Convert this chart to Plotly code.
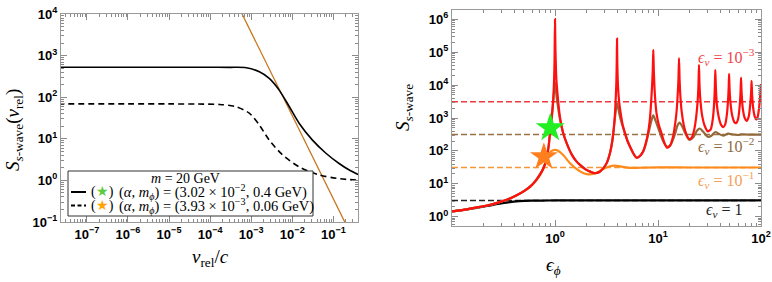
import plotly.graph_objects as go

# ---------------- Left panel data ----------------
v_solid = [2e-8, 1e-6, 1e-5, 1e-4, 3e-4, 7.6e-4, 1.58e-3, 2.75e-3, 4.8e-3, 8.5e-3, 1.48e-2, 3.1e-2, 6.6e-2, 0.138, 0.25, 0.45]
S_solid = [525, 525, 525, 524, 522, 512, 408, 283, 148, 59, 23.4, 9.3, 4.5, 2.55, 1.75, 1.32]

v_dashed = [2e-8, 1e-6, 1e-5, 5e-5, 1.7e-4, 4.3e-4, 9.1e-4, 1.6e-3, 2.75e-3, 5.8e-3, 1.48e-2, 4.6e-2, 0.12, 0.45]
S_dashed = [69, 69, 69, 68.5, 67, 59, 41, 21, 9.3, 4.1, 2.1, 1.35, 1.12, 1.0]

v_bound = [5e-4, 0.25]
S_bound = [14400, 0.0576]

# ---------------- Right panel data ----------------
eps_red = [0.1, 0.13, 0.17, 0.22, 0.28, 0.35, 0.42, 0.5, 0.58, 0.65, 0.72, 0.78, 0.83, 0.87, 0.9, 0.93, 0.96, 0.98, 0.99, 1.0,
           1.01, 1.03, 1.06, 1.12, 1.2, 1.3, 1.46, 1.6, 1.76, 2.0, 2.2, 2.45, 2.7, 2.95, 3.2, 3.42, 3.6, 3.74, 3.85, 3.94, 3.98, 4.0,
           4.03, 4.1, 4.2, 4.34, 4.55, 4.78, 5.05, 5.34, 5.75, 6.2, 6.7, 7.17, 7.6, 8.0, 8.3, 8.52, 8.75, 8.9, 9.0,
           9.1, 9.31, 9.67, 10.2, 10.8, 11.5, 12.2, 13.0, 14.0, 14.6, 15.1, 15.5, 15.8, 16.0,
           16.2, 16.5, 17.0, 17.8, 18.8, 20.0, 21.2, 22.5, 23.5, 24.3, 24.7, 25.0,
           25.3, 25.8, 26.8, 28.5, 30.5, 32.5, 34.0, 35.0, 35.6, 36.0,
           36.5, 37.3, 38.8, 41.0, 43.0, 45.0, 46.8, 48.0, 48.6, 49.0,
           49.5, 50.5, 52.5, 55.5, 57.5, 60.0, 62.0, 63.3, 64.0,
           64.8, 66.5, 69.5, 72.5, 76.0, 78.5, 80.2, 81.0,
           82.0, 84.0, 87.0, 90.0, 93.0, 96.5, 100.0]
S_red = [1.45, 1.62, 1.9, 2.2, 2.7, 3.4, 4.4, 6.0, 8.5, 12.5, 20, 32, 60, 150, 450, 1100, 3500, 1.5e4, 6e4, 1e6,
         1.2e5, 1.6e4, 5000, 1000, 350, 170, 76, 50, 37, 27, 23.5, 21, 23, 30, 45, 86, 200, 550, 2000, 1.2e4, 6e4, 2.6e5,
         4e4, 8e3, 3000, 1400, 600, 347, 200, 136, 85, 62, 70, 96, 170, 347, 800, 2200, 9000, 3e4, 1.17e5,
         3e4, 5600, 1400, 600, 347, 180, 125, 140, 275, 600, 1400, 4500, 1.5e4, 6.6e4,
         1.5e4, 4500, 1500, 600, 330, 230, 250, 450, 1100, 3500, 1e4, 4.1e4,
         1e4, 3500, 1200, 560, 390, 450, 900, 2500, 8000, 2.9e4,
         8000, 2500, 1100, 620, 530, 650, 1400, 4000, 9000, 2.2e4,
         8000, 3000, 1200, 730, 700, 950, 2200, 6000, 1.7e4,
         6000, 2000, 1000, 820, 1100, 2500, 6000, 1.35e4,
         5000, 2000, 1100, 900, 1100, 2500, 1.07e4]

eps_brown = [0.1, 0.13, 0.17, 0.22, 0.28, 0.35, 0.42, 0.5, 0.58, 0.65, 0.72, 0.78, 0.83, 0.87, 0.9, 0.93, 0.96, 1.0,
             1.04, 1.12, 1.2, 1.3, 1.46, 1.6, 1.76, 2.0, 2.2, 2.45, 2.7, 2.95, 3.2, 3.42, 3.6, 3.8, 3.95, 4.0, 4.08, 4.3,
             4.78, 5.34, 6.2, 7.17, 8.0, 8.6, 9.0, 9.5, 10.3, 11.2, 12.2, 13.2, 14.5, 15.5, 16.2, 17.2, 18.8,
             20.3, 22.0, 24.0, 25.5, 27.5, 30.5, 33.0, 36.0, 39.0, 43.0, 48.0, 53.0, 60.0, 65.0, 75.0, 100.0]
S_brown = [1.45, 1.62, 1.9, 2.2, 2.7, 3.4, 4.4, 6.0, 8.5, 12.5, 20, 32, 60, 150, 430, 1000, 3000, 1.2e4,
           4000, 900, 350, 170, 76, 50, 37, 27, 23.5, 21, 23, 30, 45, 86, 200, 900, 2400, 2800, 2200, 1000,
           340, 136, 62, 95, 300, 800, 1200, 800, 400, 200, 135, 150, 300, 600, 720, 550, 300,
           215, 260, 420, 480, 380, 270, 290, 375, 330, 290, 335, 315, 305, 318, 312, 314]

eps_orange = [0.1, 0.13, 0.17, 0.22, 0.28, 0.35, 0.42, 0.5, 0.58, 0.65, 0.72, 0.78, 0.85, 0.92, 1.0, 1.08, 1.2, 1.4,
              1.65, 1.9, 2.1, 2.4, 2.8, 3.3, 3.8, 4.3, 5.0, 6.0, 7.5, 10.0, 20.0, 100.0]
S_orange = [1.45, 1.62, 1.9, 2.2, 2.7, 3.4, 4.4, 6.0, 8.4, 12.2, 19, 33, 70, 98, 107, 100, 75, 42,
            27, 21, 19.5, 20.5, 26, 33, 36, 34, 31, 30.5, 31.2, 31.5, 31.4, 31.4]

eps_black = [0.1, 0.13, 0.164, 0.22, 0.28, 0.35, 0.45, 0.6, 0.8, 1.2, 3.0, 100.0]
S_black = [1.45, 1.62, 1.82, 2.12, 2.45, 2.75, 2.98, 3.08, 3.12, 3.14, 3.14, 3.14]

eps_range = [0.1, 100.0]
S_limit_red = [3141.6, 3141.6]
S_limit_brown = [314.16, 314.16]
S_limit_orange = [31.416, 31.416]
S_limit_black = [3.1416, 3.1416]

star_green = ([0.9], [500])
star_orange = ([0.78], [66])

# tick labels
left_xvals = [1e-7, 1e-6, 1e-5, 1e-4, 1e-3, 1e-2, 1e-1]
left_xtext = ["10<sup>−7</sup>", "10<sup>−6</sup>", "10<sup>−5</sup>", "10<sup>−4</sup>", "10<sup>−3</sup>", "10<sup>−2</sup>", "10<sup>−1</sup>"]
left_yvals = [1e-1, 1, 10, 100, 1e3, 1e4]
left_ytext = ["10<sup>−1</sup>", "10<sup>0</sup>", "10<sup>1</sup>", "10<sup>2</sup>", "10<sup>3</sup>", "10<sup>4</sup>"]
right_xvals = [1, 10, 100]
right_xtext = ["10<sup>0</sup>", "10<sup>1</sup>", "10<sup>2</sup>"]
right_yvals = [1, 10, 100, 1e3, 1e4, 1e5, 1e6]
right_ytext = ["10<sup>0</sup>", "10<sup>1</sup>", "10<sup>2</sup>", "10<sup>3</sup>", "10<sup>4</sup>", "10<sup>5</sup>", "10<sup>6</sup>"]

legend_title = "<i>m</i> = 20 GeV"
legend_rows = ["(<i>α</i>, <i>m<sub>ϕ</sub></i>) = (3.02 × 10<sup>−2</sup>, 0.4 GeV)",
               "(<i>α</i>, <i>m<sub>ϕ</sub></i>) = (3.93 × 10<sup>−3</sup>, 0.06 GeV)"]
legend_star_colors = ["#5CCB3E", "#FFA500"]

W, H = 772, 282
SERIF = "Liberation Serif, DejaVu Serif, serif"

fig = go.Figure()

# left panel traces
fig.add_trace(go.Scatter(x=v_bound, y=S_bound, mode="lines", line=dict(color="#C8761E", width=1.3),
                         showlegend=False, xaxis="x", yaxis="y"))
fig.add_trace(go.Scatter(x=v_solid, y=S_solid, mode="lines", line=dict(color="black", width=1.6, shape="spline", smoothing=0.8),
                         showlegend=False, xaxis="x", yaxis="y"))
fig.add_trace(go.Scatter(x=v_dashed, y=S_dashed, mode="lines", line=dict(color="black", width=1.6, dash="6px,4px", shape="spline", smoothing=0.8),
                         showlegend=False, xaxis="x", yaxis="y"))

# right panel traces
for yy, col in [(S_limit_black, "#222222"), (S_limit_orange, "#F5983A"), (S_limit_brown, "#9A7043"), (S_limit_red, "#EC3A40")]:
    fig.add_trace(go.Scatter(x=eps_range, y=yy, mode="lines", line=dict(color=col, width=1.5, dash="6px,3px"),
                             showlegend=False, xaxis="x2", yaxis="y2"))
fig.add_trace(go.Scatter(x=eps_black, y=S_black, mode="lines", line=dict(color="black", width=2.2, shape="spline", smoothing=0.8),
                         showlegend=False, xaxis="x2", yaxis="y2"))
fig.add_trace(go.Scatter(x=eps_orange, y=S_orange, mode="lines", line=dict(color="#FF8A1A", width=2.2, shape="spline", smoothing=0.8),
                         showlegend=False, xaxis="x2", yaxis="y2"))
fig.add_trace(go.Scatter(x=eps_brown, y=S_brown, mode="lines", line=dict(color="#94693A", width=2.2, shape="spline", smoothing=0.8),
                         showlegend=False, xaxis="x2", yaxis="y2"))
fig.add_trace(go.Scatter(x=eps_red, y=S_red, mode="lines", line=dict(color="#FF1010", width=2.2, shape="spline", smoothing=0.6),
                         showlegend=False, xaxis="x2", yaxis="y2"))
fig.add_trace(go.Scatter(x=star_orange[0], y=star_orange[1], mode="markers",
                         marker=dict(symbol="star", size=21, color="#FF7F1E", line=dict(width=0)),
                         showlegend=False, xaxis="x2", yaxis="y2"))
fig.add_trace(go.Scatter(x=star_green[0], y=star_green[1], mode="markers",
                         marker=dict(symbol="star", size=22, color="#22EE22", line=dict(width=0)),
                         showlegend=False, xaxis="x2", yaxis="y2"))

tickfont = dict(family="Liberation Sans, Arial, sans-serif", size=13, color="black", weight="bold")
common = dict(type="log", showline=True, linecolor="#9a9a9a", linewidth=1, mirror="ticks",
              ticks="inside", ticklen=6, tickcolor="#8a8a8a", tickwidth=1, showgrid=False, zeroline=False,
              tickmode="array", tickfont=tickfont, automargin=False,
              minor=dict(ticks="inside", ticklen=3, tickcolor="#8a8a8a", dtick="D1", showgrid=False))

fig.update_layout(
    width=W, height=H, margin=dict(l=0, r=0, t=0, b=0),
    paper_bgcolor="white", plot_bgcolor="white", showlegend=False,
    xaxis=dict(domain=[61 / W, 358 / W], range=[-7.63, -0.4], tickvals=left_xvals, ticktext=left_xtext,
               anchor="y", **common),
    yaxis=dict(domain=[1 - 222 / H, 1 - 14 / H], range=[-1, 4], tickvals=left_yvals, ticktext=left_ytext,
               anchor="x", **common),
    xaxis2=dict(domain=[452 / W, 761 / W], range=[-1, 2], tickvals=right_xvals, ticktext=right_xtext,
                anchor="y2", **common),
    yaxis2=dict(domain=[1 - 226 / H, 1 - 10 / H], range=[-0.28, 6.28], tickvals=right_yvals, ticktext=right_ytext,
                anchor="x2", **common),
)

# ---- legend box (drawn as decoration in paper coordinates) ----
shapes = [dict(type="rect", xref="paper", yref="paper", x0=68 / W, x1=313 / W, y0=1 - 216 / H, y1=1 - 171 / H,
               fillcolor="white", line=dict(color="#333333", width=1), layer="above")]
row_y = [192, 205.5]
for i, dash in enumerate(["solid", "4px,2.5px"]):
    shapes.append(dict(type="line", xref="paper", yref="paper", x0=71 / W, x1=86 / W,
                       y0=1 - row_y[i] / H, y1=1 - row_y[i] / H,
                       line=dict(color="black", width=2, dash=dash), layer="above"))
fig.update_layout(shapes=shapes)


def note(text, px, py, size, color="black", xanchor="center", angle=0):
    return dict(text=text, x=px / W, y=1 - py / H, xref="paper", yref="paper", showarrow=False,
                xanchor=xanchor, yanchor="middle", textangle=angle,
                font=dict(family=SERIF, size=size, color=color))


ann = [note(legend_title, 185, 178, 14)]
for i in range(2):
    ann.append(note("(<span style='color:%s'>★</span>)" % legend_star_colors[i], 89, row_y[i], 14, xanchor="left"))
    ann.append(note(legend_rows[i], 117, row_y[i], 14.5, xanchor="left"))

# axis titles
ann.append(note("<i>S</i><sub><i>s</i>-wave</sub>(<i>v</i><sub>rel</sub>)", 14, 130, 19, angle=-90))
ann.append(note("<i>v</i><sub>rel</sub>/<i>c</i>", 210, 258, 19))
ann.append(note("<i>S</i><sub><i>s</i>-wave</sub>", 404, 108, 19, angle=-90))
ann.append(note("<i>ϵ</i><sub><i>ϕ</i></sub>", 553, 266, 19))
# curve labels
for txt, col, px, py in [("<i>ϵ<sub>v</sub></i> = 10<sup>−3</sup>", "#EE4646", 726, 57),
                         ("<i>ϵ<sub>v</sub></i> = 10<sup>−2</sup>", "#8E6A43", 726, 146),
                         ("<i>ϵ<sub>v</sub></i> = 10<sup>−1</sup>", "#F5A055", 726, 180),
                         ("<i>ϵ<sub>v</sub></i> = 1", "#222222", 724, 210)]:
    ann.append(note(txt, px, py, 16, color=col))
fig.update_layout(annotations=ann)

fig.write_html("out.html", config={"displayModeBar": False},
               post_script="document.body.style.margin='0px';")
